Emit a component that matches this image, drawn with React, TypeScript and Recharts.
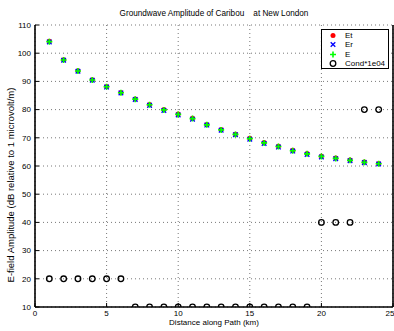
import React from "react";
import {
  ScatterChart,
  Scatter,
  XAxis,
  YAxis,
  CartesianGrid,
} from "recharts";

const distances = [1, 2, 3, 4, 5, 6, 7, 8, 9, 10, 11, 12, 13, 14, 15, 16, 17, 18, 19, 20, 21, 22, 23, 24];
const etValues = [104.2, 97.7, 93.8, 90.6, 88.2, 86.1, 83.8, 81.8, 80.0, 78.4, 76.9, 74.7, 72.9, 71.3, 69.8, 68.3, 67.0, 65.6, 64.4, 63.5, 62.8, 62.1, 61.4, 60.9];
const erValues = [104.0, 97.5, 93.6, 90.4, 88.0, 85.9, 83.6, 81.5, 79.7, 78.1, 76.6, 74.5, 72.7, 71.1, 69.5, 68.0, 66.7, 65.3, 64.1, 63.2, 62.6, 61.9, 61.2, 60.7];
const eValues = [104.1, 97.6, 93.7, 90.5, 88.1, 86.0, 83.7, 81.7, 79.9, 78.3, 76.8, 74.6, 72.8, 71.2, 69.7, 68.2, 66.9, 65.4, 64.3, 63.4, 62.7, 62.0, 61.3, 60.8];
const condValues = [20, 20, 20, 20, 20, 20, 10, 10, 10, 10, 10, 10, 10, 10, 10, 10, 10, 10, 10, 40, 40, 40, 80, 80];

const xTicks = [0, 5, 10, 15, 20, 25];
const yTicks = [10, 20, 30, 40, 50, 60, 70, 80, 90, 100, 110];

const toPoints = (vals: number[]) => distances.map((d, i) => ({ x: d, y: vals[i] }));

const FONT = "'Liberation Sans', Arial, sans-serif";

const Dot = (p: any) => <circle cx={p.cx} cy={p.cy} r={2.5} fill="#ff0000" />;
const Cross = (p: any) => (
  <path
    d={`M${p.cx - 2.3},${p.cy - 2.3}L${p.cx + 2.3},${p.cy + 2.3}M${p.cx - 2.3},${p.cy + 2.3}L${p.cx + 2.3},${p.cy - 2.3}`}
    stroke="#0000ff"
    strokeWidth={1.3}
  />
);
const Plus = (p: any) => (
  <path
    d={`M${p.cx - 3},${p.cy}L${p.cx + 3},${p.cy}M${p.cx},${p.cy - 3}L${p.cx},${p.cy + 3}`}
    stroke="#00ff00"
    strokeWidth={1.6}
  />
);
const Ring = (p: any) => (
  <circle cx={p.cx} cy={p.cy} r={2.8} fill="none" stroke="#000" strokeWidth={1.3} />
);

const legendItems = [
  { name: "Et", Icon: Dot },
  { name: "Er", Icon: Cross },
  { name: "E", Icon: Plus },
  { name: "Cond*1e04", Icon: Ring },
];

const tickStyle = { fontSize: 8, fill: "#000", fontFamily: FONT };
const noLabel = () => "";

export default function App() {
  return (
    <div style={{ position: "absolute", left: 0, top: 0, width: 394, height: 331, background: "#fff", fontFamily: FONT }}>
      <div
        style={{
          position: "absolute",
          top: 9,
          left: 35,
          width: 358,
          textAlign: "center",
          fontSize: 8.2,
          whiteSpace: "pre",
        }}
      >
        {"Groundwave Amplitude of Caribou    at New London"}
      </div>
      <div
        style={{
          position: "absolute",
          top: 318,
          left: 35,
          width: 358,
          textAlign: "center",
          fontSize: 8,
        }}
      >
        Distance along Path (km)
      </div>
      <div
        style={{
          position: "absolute",
          left: 10,
          top: 185,
          transform: "translate(-50%, -50%) rotate(-90deg)",
          whiteSpace: "nowrap",
          fontSize: 9.5,
        }}
      >
        E-field Amplitude (dB relative to 1 microvolt/m)
      </div>
      <ScatterChart
        width={394}
        height={331}
        margin={{ top: 25, right: 0, bottom: 4, left: 0 }}
        style={{ position: "absolute", left: 0, top: 0 }}
      >
        <CartesianGrid stroke="#555" strokeDasharray="1 3" strokeWidth={0.8} xAxisId="b" yAxisId="l" />
        <XAxis
          xAxisId="b"
          type="number"
          dataKey="x"
          domain={[0, 25]}
          ticks={xTicks}
          height={20}
          axisLine={{ stroke: "#000", strokeWidth: 1.6 }}
          tickLine={{ stroke: "#000" }}
          tickSize={-4}
          tickMargin={7}
          tick={tickStyle}
          allowDataOverflow
        />
        <XAxis
          xAxisId="t"
          orientation="top"
          type="number"
          dataKey="x"
          domain={[0, 25]}
          ticks={xTicks}
          height={0}
          axisLine={{ stroke: "#000", strokeWidth: 1.6 }}
          tickLine={{ stroke: "#000" }}
          tickSize={-4}
          tickFormatter={noLabel}
        />
        <YAxis
          yAxisId="l"
          type="number"
          dataKey="y"
          domain={[10, 110]}
          ticks={yTicks}
          width={35}
          axisLine={{ stroke: "#000", strokeWidth: 1.6 }}
          tickLine={{ stroke: "#000" }}
          tickSize={-4}
          tickMargin={8}
          tick={tickStyle}
          allowDataOverflow
        />
        <YAxis
          yAxisId="r"
          orientation="right"
          type="number"
          dataKey="y"
          domain={[10, 110]}
          ticks={yTicks}
          width={1}
          axisLine={{ stroke: "#000", strokeWidth: 1.6 }}
          tickLine={{ stroke: "#000" }}
          tickSize={-4}
          tickFormatter={noLabel}
        />
        <Scatter xAxisId="b" yAxisId="l" data={toPoints(etValues)} shape={Dot} isAnimationActive={false} />
        <Scatter xAxisId="b" yAxisId="l" data={toPoints(erValues)} shape={Cross} isAnimationActive={false} />
        <Scatter xAxisId="b" yAxisId="l" data={toPoints(eValues)} shape={Plus} isAnimationActive={false} />
        <Scatter xAxisId="b" yAxisId="l" data={toPoints(condValues)} shape={Ring} isAnimationActive={false} />
      </ScatterChart>
      <div
        style={{
          position: "absolute",
          left: 321,
          top: 29,
          width: 66,
          height: 38,
          border: "1.5px solid #000",
          background: "#fff",
          fontSize: 8,
        }}
      >
        {legendItems.map(({ name, Icon }, i) => (
          <div key={name} style={{ position: "absolute", left: 0, top: 1 + i * 9.3, height: 9, display: "flex", alignItems: "center" }}>
            <svg width={22} height={9} style={{ display: "block" }}>
              <Icon cx={11} cy={4.5} />
            </svg>
            <span style={{ marginLeft: 1, lineHeight: "9px" }}>{name}</span>
          </div>
        ))}
      </div>
    </div>
  );
}
